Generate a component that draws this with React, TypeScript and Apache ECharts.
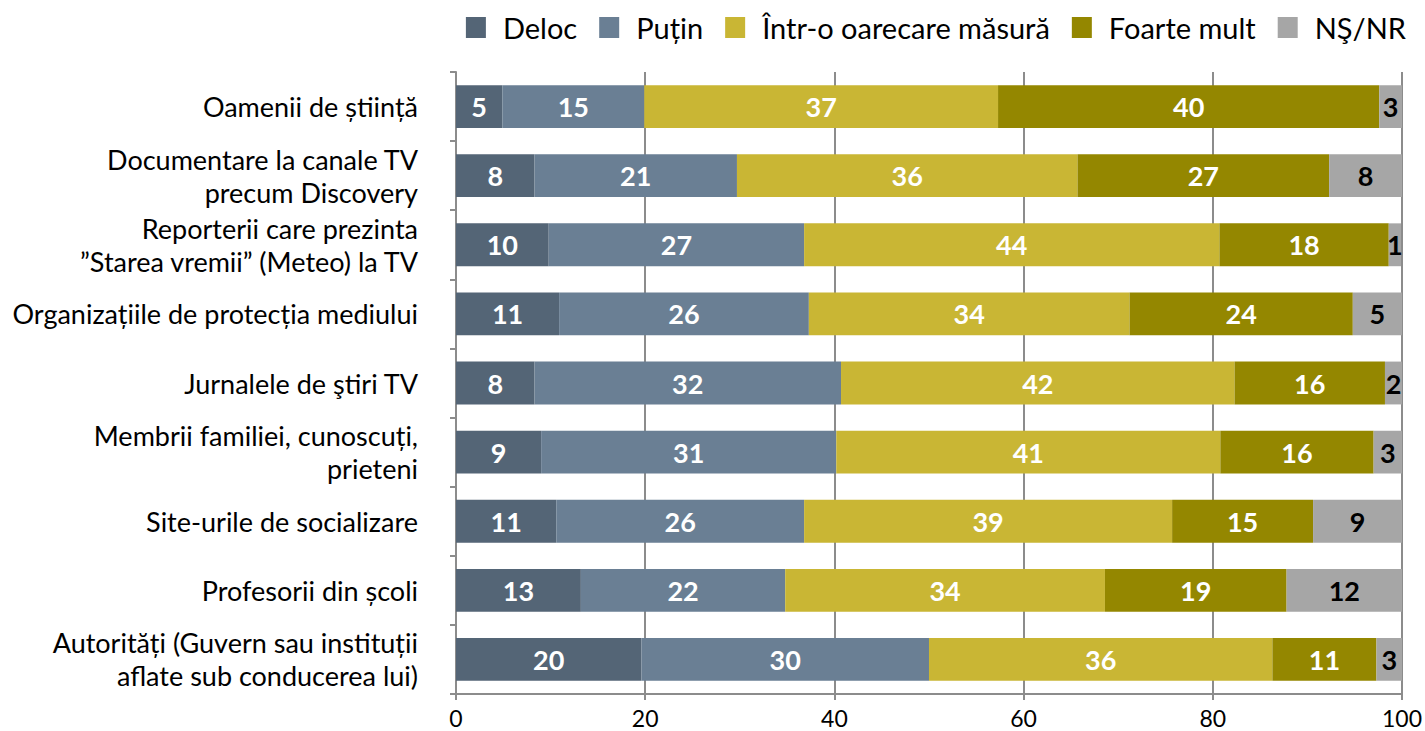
import React, { useEffect, useRef } from "react";
import * as echarts from "echarts";

const categories = [
  "Oamenii de știință",
  "Documentare la canale TV\nprecum Discovery",
  "Reporterii care prezinta\n”Starea vremii” (Meteo) la TV",
  "Organizațiile de protecția mediului",
  "Jurnalele de ştiri TV",
  "Membrii familiei, cunoscuți,\nprieteni",
  "Site-urile de socializare",
  "Profesorii din școli",
  "Autorități (Guvern sau instituții\naflate sub conducerea lui)",
];

const seriesNames = ["Deloc", "Puțin", "Într-o oarecare măsură", "Foarte mult", "NŞ/NR"];

const deloc = [4.9, 8.3, 9.8, 10.9, 8.3, 9.0, 10.6, 13.2, 19.6];
const putin = [15.0, 21.4, 27.0, 26.4, 32.4, 31.2, 26.2, 21.6, 30.4];
const intrO = [37.4, 36.0, 43.9, 33.9, 41.6, 40.6, 38.9, 33.8, 36.3];
const foarte = [40.3, 26.6, 17.9, 23.6, 15.9, 16.2, 14.9, 19.2, 11.0];
const nsnr = [2.6, 7.7, 1.3, 5.2, 1.8, 3.0, 9.4, 12.2, 2.7];

const xMin = 0;
const xMax = 100;
const xStep = 20;

const colors = ["#546576", "#6a7f94", "#c9b634", "#948700", "#a6a6a6"];
const labelColors = ["#ffffff", "#ffffff", "#ffffff", "#ffffff", "#000000"];

const FONT = "Lato, 'Open Sans', sans-serif";

export default function App() {
  const ref = useRef<HTMLDivElement>(null);

  useEffect(() => {
    if (!ref.current) return;
    const chart = echarts.init(ref.current, undefined, { renderer: "svg" });
    const values = [deloc, putin, intrO, foarte, nsnr];
    chart.setOption({
      animation: false,
      textStyle: { fontFamily: FONT },
      legend: {
        data: seriesNames,
        right: 14,
        top: 8,
        icon: "rect",
        itemWidth: 20,
        itemHeight: 21,
        itemGap: 22,
        textStyle: { fontSize: 29, color: "#000", fontFamily: FONT, padding: [0, 0, 0, 12] },
      },
      grid: { left: 456, right: 22, top: 72, bottom: 37, containLabel: false },
      xAxis: {
        type: "value",
        min: xMin,
        max: xMax,
        interval: xStep,
        axisLine: { show: true, lineStyle: { color: "#8c8c8c", width: 2 } },
        axisTick: { show: true, length: 6, lineStyle: { color: "#8c8c8c", width: 2 } },
        splitLine: { show: true, lineStyle: { color: "#8c8c8c", width: 2 } },
        axisLabel: { fontSize: 23, color: "#000", margin: 12, fontFamily: FONT },
      },
      yAxis: {
        type: "category",
        data: categories,
        inverse: true,
        axisLine: { show: true, lineStyle: { color: "#8c8c8c", width: 2 } },
        axisTick: { show: true, length: 6, lineStyle: { color: "#8c8c8c", width: 2 } },
        axisLabel: {
          fontSize: 27,
          color: "#000",
          margin: 38,
          lineHeight: 33,
          align: "right",
          fontFamily: FONT,
        },
      },
      series: seriesNames.map((name, i) => ({
        name,
        type: "bar",
        stack: "total",
        barWidth: "62%",
        clip: true,
        data: values[i],
        itemStyle: { color: colors[i] },
        label: {
          show: true,
          position: "inside",
          color: labelColors[i],
          fontSize: 27,
          fontWeight: "bold",
          fontFamily: FONT,
          formatter: (p: any) => String(Math.round(p.value)),
        },
      })),
    });
    return () => chart.dispose();
  }, []);

  return (
    <div
      ref={ref}
      style={{ position: "fixed", left: 0, top: 0, width: 1425, height: 731, background: "#fff" }}
    />
  );
}
